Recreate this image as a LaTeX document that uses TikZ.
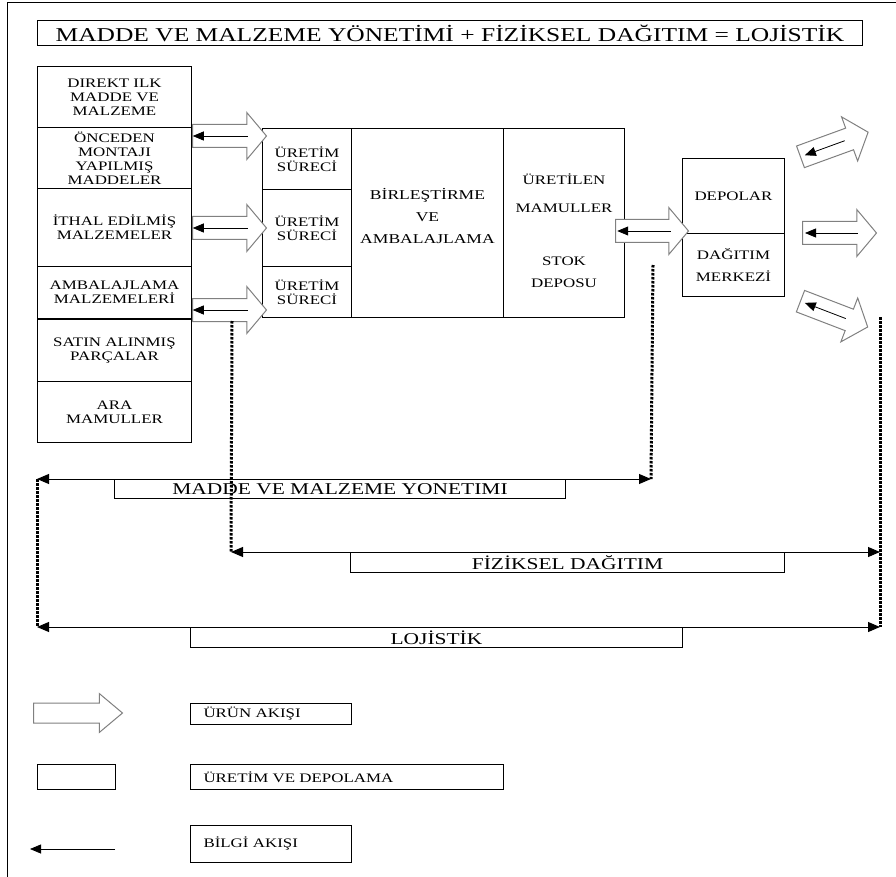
\documentclass[tikz,border=0pt]{standalone}
\usepackage{fontspec}
\setmainfont{Liberation Serif}[FakeStretch=1.3]
\usetikzlibrary{shapes.arrows,arrows.meta,positioning,calc}

\tikzset{
  cell/.style={draw, line width=1pt, inner sep=0pt, anchor=north west, align=center,
    font=\fontsize{13}{14}\selectfont},
  celltext/.style={inner sep=0pt, align=center, font=\fontsize{13}{14}\selectfont},
  flow/.style={single arrow, draw=gray, fill=white, line width=1pt, inner xsep=0pt, inner ysep=11pt,
    single arrow head extend=12pt, single arrow tip angle=100,
    minimum height=74pt, anchor=tail},
  info/.style={-{Triangle[length=11pt,width=9pt]}, line width=0.8pt},
  span/.style={{Triangle[length=12pt,width=10pt]}-{Triangle[length=12pt,width=10pt]}, line width=1pt},
  dots/.style={line width=3pt, dash pattern=on 2.5pt off 1.5pt},
  tag/.style={draw, line width=1pt, inner sep=0pt, anchor=north west, minimum height=20pt,
    font=\fontsize{16.5}{18}\selectfont},
  key/.style={draw, line width=1pt, anchor=north west, inner xsep=13pt, inner ysep=0pt, align=left,
    font=\fontsize{13}{14}\selectfont}
}

\begin{document}
\begin{tikzpicture}[x=1pt, y=-1pt]
  \useasboundingbox (0,0) rectangle (896,877);
  \draw[line width=1pt] (896,3) -- (7,3) -- (7,877);

  \node[tag, minimum width=825pt, minimum height=25pt, font=\fontsize{19.6}{20}\selectfont] (title) at (37,20)
    {MADDE VE MALZEME YÖNETİMİ + FİZİKSEL DAĞITIM = LOJİSTİK};

  \node[cell, minimum width=154pt, minimum height=61pt] (direkt) at (37,66) {DIREKT ILK\\MADDE VE\\MALZEME};
  \node[cell, minimum width=154pt, minimum height=61pt] (onceden) at (37,127) {ÖNCEDEN\\MONTAJI\\YAPILMIŞ\\MADDELER};
  \node[cell, minimum width=154pt, minimum height=78pt] (ithal) at (37,188) {İTHAL EDİLMİŞ\\MALZEMELER};
  \node[cell, minimum width=154pt, minimum height=52pt] (ambmal) at (37,266) {AMBALAJLAMA\\MALZEMELERİ};
  \node[cell, minimum width=154pt, minimum height=62pt] (satin) at (37,319) {SATIN ALINMIŞ\\PARÇALAR};
  \node[cell, minimum width=154pt, minimum height=61pt] (ara) at (37,381) {ARA\\MAMULLER};

  \node[cell, minimum width=89pt, minimum height=61pt] (uretA) at (262,128) {ÜRETİM\\SÜRECİ};
  \node[cell, minimum width=89pt, minimum height=77pt] (uretB) at (262,189) {ÜRETİM\\SÜRECİ};
  \node[cell, minimum width=89pt, minimum height=51pt] (uretC) at (262,266) {ÜRETİM\\SÜRECİ};
  \node[cell, minimum width=152pt, minimum height=189pt] (birles) at (351,128) {};
  \node[celltext, font=\fontsize{13.5}{22}\selectfont] (birlestxt) at ($(birles.center)+(0,-7.5)$)
    {BİRLEŞTİRME\\VE\\AMBALAJLAMA};
  \node[cell, minimum width=121pt, minimum height=189pt] (stok) at (503,128) {};
  \node[celltext] (stoktxt) at ($(stok.center)+(0,8)$)
    {ÜRETİLEN\\[14pt]MAMULLER\\[39pt]STOK\\[8pt]DEPOSU};

  \node[cell, minimum width=102pt, minimum height=75pt] (depolar) at (682,158) {DEPOLAR};
  \node[cell, minimum width=102pt, minimum height=63pt] (dagitim) at (682,233) {DAĞITIM\\[8pt]MERKEZİ};

  \node[flow] (paA) at (192,136) {};
  \node[flow] (paB) at (192,228) {};
  \node[flow] (paC) at (192,310) {};
  \node[flow, minimum height=73pt] (paD) at (615,231) {};
  \node[flow] (paE) at (802,233) {};
  \node[flow, minimum height=72pt, rotate=20] (paF) at (800,157) {};
  \node[flow, minimum height=72pt, rotate=-21] (paG) at (800,301) {};
  \foreach \a/\s/\e in {paA/0.74/0.01, paB/0.74/0.01, paC/0.74/0.01, paD/0.75/0.03,
                        paE/0.74/0.04, paF/0.65/0.07, paG/0.67/0.07}
    \draw[info] ($(\a.tail)!\s!(\a.tip)$) -- ($(\a.tail)!\e!(\a.tip)$);

  \coordinate (mmL) at (37,479);
  \coordinate (mmR) at (651,479);
  \coordinate (fdL) at (231,552);
  \coordinate (fdR) at (880,552);
  \coordinate (ljL) at (37,627);
  \coordinate (ljR) at (880,627);
  \coordinate (dotA) at (232,321);
  \coordinate (dotB) at (653,265);
  \coordinate (dotC) at (880,317);

  \draw[dots] (mmL) -- (ljL);
  \draw[dots] (dotA) -- (fdL);
  \draw[dots] (dotB) -- (mmR);
  \draw[dots] (dotC) -- (ljR);

  \draw[span] (mmL) -- (mmR);
  \draw[span] (fdL) -- (fdR);
  \draw[span] (ljL) -- (ljR);
  \node[tag, minimum width=451pt, minimum height=19pt] (mmtag) at (114,479) {MADDE VE MALZEME YONETIMI};
  \node[tag, minimum width=434pt] (fdtag) at (350,552) {FİZİKSEL DAĞITIM};
  \node[tag, minimum width=492pt] (ljtag) at (190,627) {LOJİSTİK};

  \node[flow, inner ysep=9.5pt, single arrow head extend=9.5pt, single arrow tip angle=80,
    minimum height=89pt] (keyflow) at (33,713) {};
  \node[key, minimum width=161pt, minimum height=21pt, text width=135pt] (keyurun) at (190,703) {ÜRÜN AKIŞI};
  \node[draw, line width=1pt, anchor=north west, minimum width=78pt, minimum height=25pt] (keybox) at (37,764) {};
  \node[key, minimum width=313pt, minimum height=25pt, text width=287pt] (keyuretim) at (190,764) {ÜRETİM VE DEPOLAMA};
  \coordinate (keyinfoA) at (115,849);
  \coordinate (keyinfoB) at (30,849);
  \draw[info] (keyinfoA) -- (keyinfoB);
  \node[key, minimum width=161pt, minimum height=37pt, text width=135pt] (keybilgi) at (190,825) {BİLGİ AKIŞI};
\end{tikzpicture}
\end{document}
